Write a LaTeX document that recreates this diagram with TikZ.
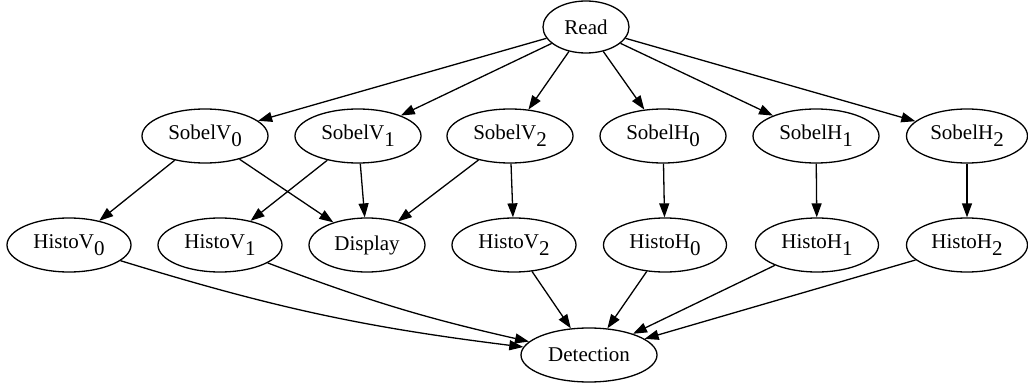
\documentclass[tikz,border=0pt]{standalone}
\usepackage{fontspec}
\setmainfont{Liberation Serif}
\usetikzlibrary{arrows.meta, shapes.geometric}
\newcommand{\sub}[1]{\raisebox{-0.33em}{#1}}

\begin{document}
\begin{tikzpicture}[x=1pt, y=-1pt, >={Triangle[length=14pt, width=10pt]}, line width=1.3pt,
  every node/.style={font=\fontsize{21}{25}\selectfont},
  task/.style={ellipse, draw, inner sep=0pt, minimum width=124pt, minimum height=54pt}]
\useasboundingbox (0,0) rectangle (1028,385);
\node[task, minimum width=86pt, minimum height=52pt] (read) at (586,27) {Read};
\node[task, minimum width=126pt] (sv0) at (205,136) {SobelV\sub{0}};
\node[task, minimum width=126pt] (sv1) at (358,136) {SobelV\sub{1}};
\node[task, minimum width=126pt] (sv2) at (510,136) {SobelV\sub{2}};
\node[task, minimum width=126pt] (sh0) at (663,136) {SobelH\sub{0}};
\node[task, minimum width=126pt] (sh1) at (816,136) {SobelH\sub{1}};
\node[task, minimum width=121pt] (sh2) at (967,136) {SobelH\sub{2}};
\node[task] (hv0) at (69,245)  {HistoV\sub{0}};
\node[task] (hv1) at (220,245) {HistoV\sub{1}};
\node[task, minimum width=116pt] (disp) at (367,245) {Display};
\node[task] (hv2) at (514,245) {HistoV\sub{2}};
\node[task, minimum width=123pt] (hh0) at (665,245) {HistoH\sub{0}};
\node[task, minimum width=123pt] (hh1) at (817,245) {HistoH\sub{1}};
\node[task, minimum width=121pt] (hh2) at (967,245) {HistoH\sub{2}};
\node[task, minimum width=136pt] (det) at (589,355) {Detection};
% read fans out to the filters
\draw[->] (read) -- (sv0);
\draw[->] (read) -- (sv1);
\draw[->] (read) -- (sv2);
\draw[->] (read) -- (sh0);
\draw[->] (read) -- (sh1);
\draw[->] (read) -- (sh2);
% filters to histograms and display
\draw[->] (sv0) -- (hv0);
\draw[->] (sv0) -- (disp);
\draw[->] (sv1) -- (hv1);
\draw[->] (sv1) -- (disp);
\draw[->] (sv2) -- (disp);
\draw[->] (sv2) -- (hv2);
\draw[->] (sh0) -- (hh0);
\draw[->] (sh1) -- (hh1);
\draw[->] (sh2) -- (hh2);
% histograms into detection
\draw[->] (hv0) to[bend right=5] (det);
\draw[->] (hv1) to[bend right=4] (det);
\draw[->] (hv2) -- (det);
\draw[->] (hh0) -- (det);
\draw[->] (hh1) -- (det);
\draw[->] (hh2) -- (det);
\end{tikzpicture}
\end{document}
